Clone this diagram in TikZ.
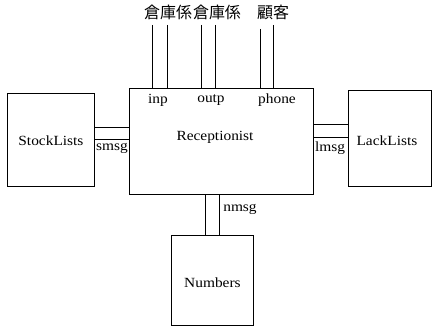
\documentclass[tikz,border=0pt]{standalone}
\usepackage{fontspec}
\setmainfont{Liberation Serif}[FakeStretch=1.1]
\newfontfamily\cjk{Noto Sans CJK JP}
\begin{document}
\begin{tikzpicture}[x=1pt,y=-1pt,
  box/.style={draw,line width=0.9pt,inner sep=0pt,anchor=north west},
  lbl/.style={inner sep=0pt,font=\fontsize{14}{16}\selectfont},
  jlbl/.style={inner sep=0pt,font=\cjk\fontsize{16}{18}\selectfont},
  wire/.style={line width=0.9pt}]
\useasboundingbox (0,0) rectangle (432,326);
\node[box,minimum width=184pt,minimum height=106pt] (rec) at (129,88) {};
\node[lbl] at (215,137) {Receptionist};
\node[box,minimum width=87pt,minimum height=93pt] (stock) at (7,93) {};
\node[lbl] at ([yshift=-1pt]stock.center) {StockLists};
\node[box,minimum width=83pt,minimum height=96pt] (lack) at (348,90) {};
\node[lbl] at ([xshift=-3pt,yshift=-2pt]lack.center) {LackLists};
\node[box,minimum width=82pt,minimum height=90pt] (num) at (171,235) {};
\node[lbl] at ([yshift=-2pt]num.center) {Numbers};
% port labels
\node[lbl] (inp) at (158,100) {inp};
\node[lbl] (outp) at (211,100) {outp};
\node[lbl] (phone) at (277,100) {phone};
\node[lbl] (smsg) at (112,148) {smsg};
\node[lbl] (lmsg) at (330,148) {lmsg};
\node[lbl] (nmsg) at (240,209) {nmsg};
% top labels
\node[jlbl] (j1) at (168,12) {倉庫係};
\node[jlbl] (j2) at (217,12) {倉庫係};
\node[jlbl] (j3) at (273,12) {顧客};
% top wires
\coordinate (t1) at (152,25);
\coordinate (t2) at (167,25);
\coordinate (t3) at (201,25);
\coordinate (t4) at (215,25);
\coordinate (t5) at (260,29);
\coordinate (t6) at (273,25);
\foreach \t in {t1,t2,t3,t4,t5,t6}
  \draw[wire] (\t) -- (\t |- rec.north);
% side wires
\coordinate (s1) at (0,127);
\coordinate (s2) at (0,139);
\draw[wire] (stock.east |- s1) -- (rec.west |- s1);
\draw[wire] (stock.east |- s2) -- (rec.west |- s2);
\coordinate (l1) at (0,124);
\coordinate (l2) at (0,137);
\draw[wire] (rec.east |- l1) -- (lack.west |- l1);
\draw[wire] (rec.east |- l2) -- (lack.west |- l2);
\coordinate (n1) at (205,0);
\coordinate (n2) at (219,0);
\draw[wire] (n1 |- rec.south) -- (n1 |- num.north);
\draw[wire] (n2 |- rec.south) -- (n2 |- num.north);
\end{tikzpicture}
\end{document}
